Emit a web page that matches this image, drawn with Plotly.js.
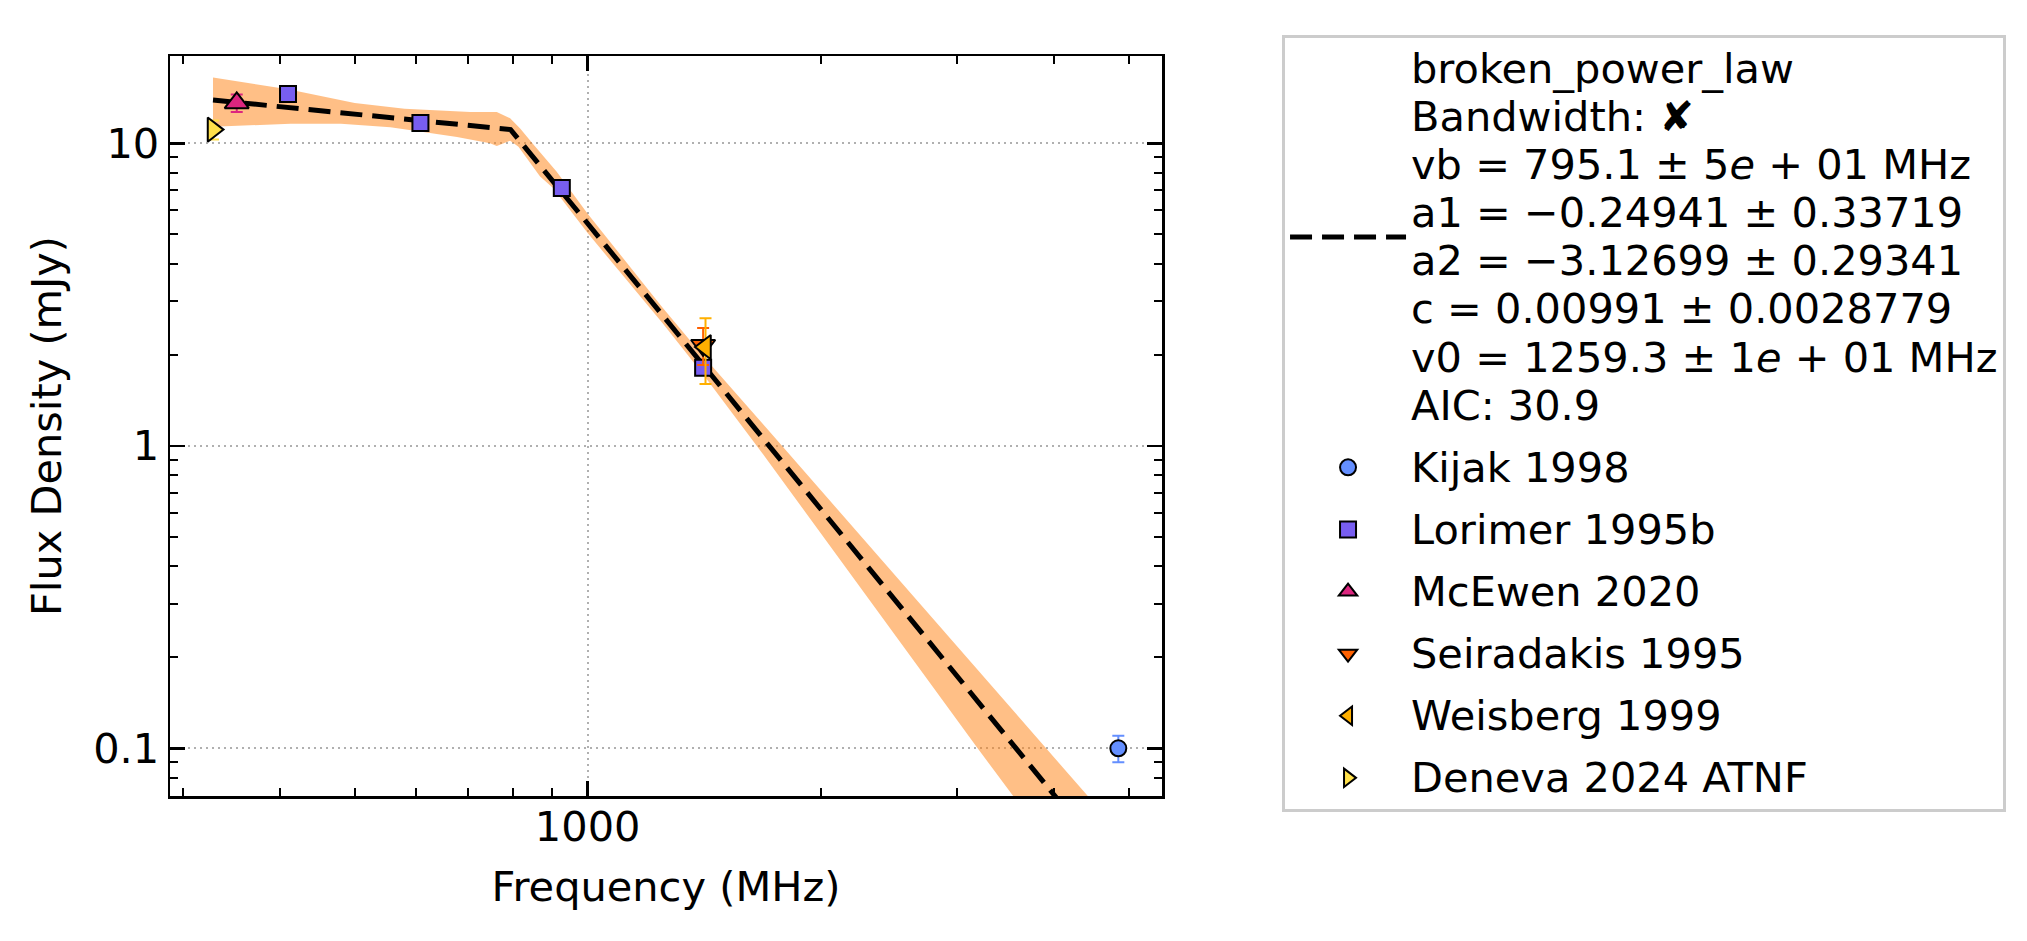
<!DOCTYPE html>
<html>
<head>
<meta charset="utf-8">
<script src="https://cdn.plot.ly/plotly-3.0.1.min.js"></script>
<style>html,body{margin:0;padding:0;background:#fff;}#chart{width:2027px;height:941px;}</style>
</head>
<body>
<div id="chart"></div>
<script>
// ---- data (frequency in MHz, flux density in mJy) ----
const kijakFreq = [4850];
const kijakFlux = [0.100];
const kijakErr = [0.010];

const lorimerFreq = [410, 608, 926, 1410];
const lorimerFlux = [14.55, 11.67, 7.11, 1.81];
const lorimerErr = [0.6, 0.45, 0.28, 0.07];

const mcewenFreq = [352];
const mcewenFlux = [13.6];
const mcewenErr = [0.9];

const seiradakisFreq = [1410];
const seiradakisFlux = [2.15];
const seiradakisErr = [0.3];

const weisbergFreq = [1420];
const weisbergFlux = [2.12];
const weisbergErr = [0.52];

const denevaFreq = [328];
const denevaFlux = [11.1];
const denevaErr = [0.8];

// fitted broken power law
const fitFreq = [328, 795, 1000, 1408, 2000, 3000, 5000];
const fitFlux = [13.9, 11.1, 5.43, 1.86, 0.62, 0.175, 0.035];

// uncertainty envelope edges
const bandUpperFreq = [328, 410, 500, 580, 705, 763, 794, 818, 851, 912, 1000, 1250, 1408, 1700, 3912, 5600];
const bandUpperFlux = [16.5, 15.1, 13.6, 13.0, 12.7, 12.7, 12.1, 11.2, 9.9, 8.05, 5.85, 2.86, 1.99, 1.15, 0.1, 0.035];
const bandLowerFreq = [328, 413, 480, 556, 613, 678, 748, 763, 794, 814, 843, 868, 903, 1000, 1250, 1408, 1700, 3191, 5600];
const bandLowerFlux = [11.35, 11.6, 11.6, 11.3, 10.9, 10.5, 10.0, 9.8, 10.2, 9.74, 8.6, 7.76, 7.1, 5.05, 2.54, 1.73, 0.91, 0.1, 0.0145];

const fitLabel = [
  'broken_power_law',
  'Bandwidth: \u2718',
  'vb = 795.1 \u00b1 5<i>e</i> + 01 MHz',
  'a1 = \u22120.24941 \u00b1 0.33719',
  'a2 = \u22123.12699 \u00b1 0.29341',
  'c = 0.00991 \u00b1 0.0028779',
  'v0 = 1259.3 \u00b1 1<i>e</i> + 01 MHz',
  'AIC: 30.9'
];

const yTickVals = [0.1, 1, 10];
const yTickText = ['0.1', '1', '10'];
const xTickVals = [1000];
const xTickText = ['1000'];

// ---- traces ----
const FONT = 'DejaVu Sans, Verdana, sans-serif';
const FS = 41.5;
const LEG_FS = 37;   // sets legend line pitch; glyphs themselves drawn at FS
const big = s => '<span style="font-size:' + FS + 'px">' + s + '</span>';

const bandX = bandUpperFreq.concat(bandLowerFreq.slice().reverse());
const bandY = bandUpperFlux.concat(bandLowerFlux.slice().reverse());

function pts(name, x, y, err, symbol, color, size) {
  return {
    type: 'scatter', mode: 'markers', name: big(name), legendgroup: name, x: x, y: y,
    error_y: {type: 'data', array: err, visible: true, color: color, thickness: 2, width: 6},
    marker: {symbol: symbol, size: size, color: color, line: {color: 'black', width: 2}},
    showlegend: true
  };
}

const traces = [
  {type: 'scatter', mode: 'lines', x: bandX, y: bandY, fill: 'toself',
   fillcolor: 'rgba(255,127,14,0.5)', line: {width: 0, color: 'rgba(0,0,0,0)'},
   showlegend: false, hoverinfo: 'skip'},
  {type: 'scatter', mode: 'lines', name: fitLabel.map(big).join('<br>'), legendgroup: 'fit',
   x: fitFreq, y: fitFlux, line: {color: 'black', width: 5, dash: '22px,10px'}},
  pts('Kijak 1998', kijakFreq, kijakFlux, kijakErr, 'circle', '#648FFF', 16),
  pts('Lorimer 1995b', lorimerFreq, lorimerFlux, lorimerErr, 'square', '#785EF0', 16),
  pts('McEwen 2020', mcewenFreq, mcewenFlux, mcewenErr, 'triangle-up', '#DC267F', 21),
  pts('Seiradakis 1995', seiradakisFreq, seiradakisFlux, seiradakisErr, 'triangle-down', '#FE6100', 21),
  pts('Weisberg 1999', weisbergFreq, weisbergFlux, weisbergErr, 'triangle-left', '#FFB000', 21),
  pts('Deneva 2024 ATNF', denevaFreq, denevaFlux, denevaErr, 'triangle-right', '#FFE04A', 21)
];

const axisCommon = {
  type: 'log', showline: true, linecolor: 'black', linewidth: 2.5, mirror: 'allticks',
  ticks: 'inside', ticklen: 15, tickwidth: 2.5, tickcolor: 'black',
  showgrid: true, gridcolor: '#b0b0b0', gridwidth: 2, griddash: '2px,4px',
  zeroline: false, tickfont: {family: FONT, size: FS, color: 'black'},
  minor: {ticks: 'inside', ticklen: 8, tickwidth: 2, tickcolor: 'black', showgrid: false, dtick: 'D1'},
  tickmode: 'array', automargin: false
};

const layout = {
  width: 2027, height: 941,
  margin: {l: 170, r: 865, t: 56, b: 145},
  paper_bgcolor: 'white', plot_bgcolor: 'white',
  font: {family: FONT, size: FS, color: 'black'},
  xaxis: Object.assign({}, axisCommon, {
    range: [Math.log10(288.6), Math.log10(5523)],
    tickvals: xTickVals, ticktext: xTickText, ticklabelstandoff: -7,
    title: {text: 'Frequency (MHz)', font: {family: FONT, size: FS, color: 'black'}, standoff: 22}
  }),
  yaxis: Object.assign({}, axisCommon, {
    range: [-1.1577, 1.2886],
    tickvals: yTickVals, ticktext: yTickText, ticklabelstandoff: 0,
    title: {text: 'Flux Density (mJy)', font: {family: FONT, size: FS, color: 'black'}, standoff: 19}
  }),
  legend: {
    x: 1.121, y: 1.0284, xanchor: 'left', yanchor: 'top', maxheight: 900,
    bgcolor: 'white', bordercolor: '#cccccc', borderwidth: 3,
    font: {family: FONT, size: LEG_FS, color: 'black'},
    itemwidth: 116, valign: 'middle', traceorder: 'grouped', tracegroupgap: 11
  },
  showlegend: true
};

Plotly.newPlot('chart', traces, layout, {displayModeBar: false, staticPlot: true});
</script>
</body>
</html>
